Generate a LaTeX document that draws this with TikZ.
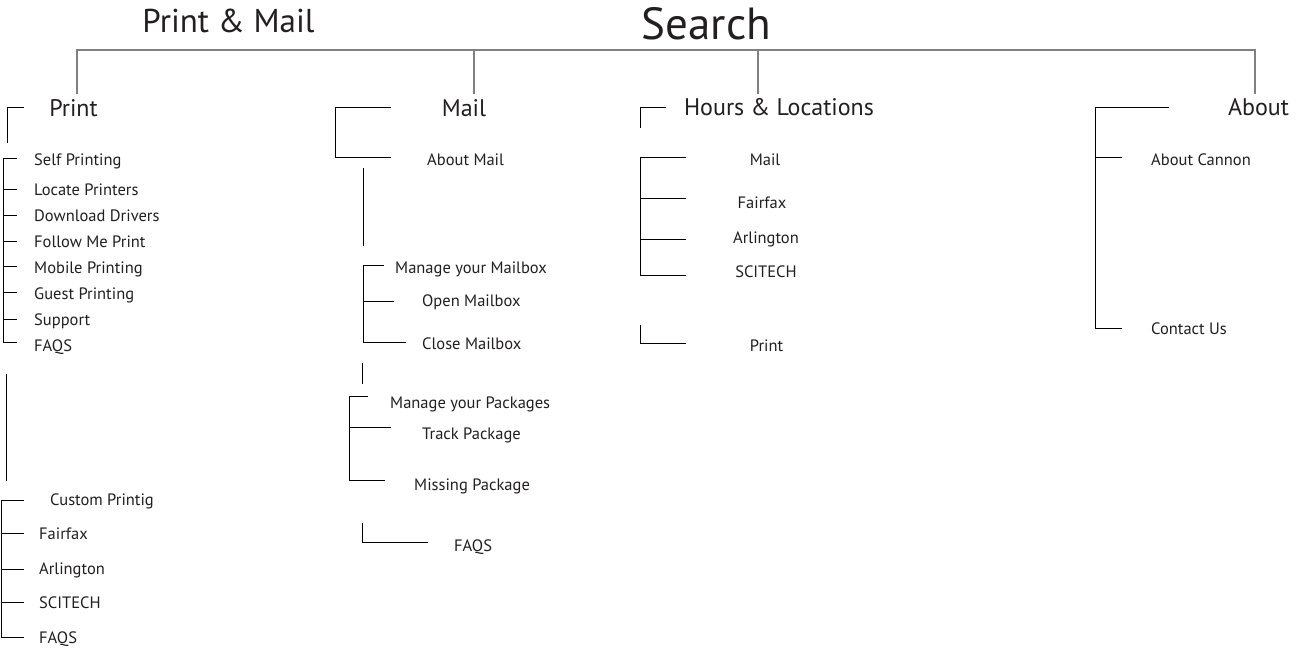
\documentclass[tikz,border=0pt]{standalone}
\usepackage{fontspec}
\setmainfont{PT Sans}
\definecolor{txt}{HTML}{231F20}
\definecolor{gline}{HTML}{808080}
\tikzset{
  itm/.style={font=\fontsize{16.5}{19}\selectfont, text=txt, inner sep=0pt, anchor=base west},
  itmc/.style={font=\fontsize{16.5}{19}\selectfont, text=txt, inner sep=0pt, anchor=base},
  hd/.style={font=\fontsize{24}{28}\selectfont, text=txt, inner sep=0pt, anchor=base},
  ttl/.style={text=txt, inner sep=0pt, anchor=base},
  br/.style={draw=black, line width=1pt},
  gr/.style={draw=gline, line width=1.3pt},
}
\begin{document}
\begin{tikzpicture}[x=1pt,y=-1pt]
\useasboundingbox[fill=white] (0,0) rectangle (1306,662);
% titles
\node[ttl, font=\fontsize{33}{38}\selectfont] (pm) at (228.5,32.5) {Print \& Mail};
\node[ttl, font=\fontsize{45}{50}\selectfont] (search) at (706.5,39) {Search};
% top tree
\draw[gr] (77,94) -- (77,50) -- (1255,50) -- (1255,94);
\draw[gr] (474,50) -- (474,94);
\draw[gr] (758,50) -- (758,94);
% headings
\node[hd] (print) at (73.5,116) {Print};
\node[hd] (mail) at (464,116) {Mail};
\node[hd] (hours) at (779,115.5) {Hours \& Locations};
\node[hd] (about) at (1258.5,115.5) {About};

% ---- Print column
\draw[br] (24,107) -- (7,107) -- (7,143);
\draw[br] (17,158) -- (3,158) -- (3,342) -- (17,342);
\foreach \y in {189,215,241,266,292,319} \draw[br] (3,\y) -- (17,\y);
\node[itm] (p1) at (34,165.5) {Self Printing};
\node[itm] (p2) at (34,195) {Locate Printers};
\node[itm] (p3) at (34,221) {Download Drivers};
\node[itm] (p4) at (34,247) {Follow Me Print};
\node[itm] (p5) at (34,273) {Mobile Printing};
\node[itm] (p6) at (34,299) {Guest Printing};
\node[itm] (p7) at (34,325) {Support};
\node[itm] (p8) at (34,351) {FAQS};
\draw[br] (6,374) -- (6,481);
\draw[br] (24,500) -- (1,500) -- (1,637) -- (24,637);
\foreach \y in {533,569,602} \draw[br] (1,\y) -- (24,\y);
\node[itm] (c1) at (50,505) {Custom Printig};
\node[itm] (c2) at (39,539) {Fairfax};
\node[itm] (c3) at (39,574) {Arlington};
\node[itm] (c4) at (39,608) {SCITECH};
\node[itm] (c5) at (39,643) {FAQS};

% ---- Mail column
\draw[br] (391,107) -- (335,107) -- (335,157) -- (391,157);
\node[itm] (m1) at (427,165) {About Mail};
\draw[br] (363,168) -- (363,246);
\draw[br] (384,265) -- (363,265) -- (363,342) -- (406,342);
\draw[br] (363,301) -- (394,301);
\node[itm] (m2) at (395,273) {Manage your Mailbox};
\node[itm] (m3) at (422,306) {Open Mailbox};
\node[itm] (m4) at (422,349) {Close Mailbox};
\draw[br] (362,363) -- (362,384);
\draw[br] (368,396) -- (349,396) -- (349,480) -- (385,480);
\draw[br] (349,427) -- (391,427);
\node[itm] (m5) at (390,408) {Manage your Packages};
\node[itm] (m6) at (422,439) {Track Package};
\node[itm] (m7) at (414,490) {Missing Package};
\draw[br] (362,523) -- (362,542) -- (428,542);
\node[itm] (m8) at (454,551) {FAQS};

% ---- Hours column
\draw[br] (666,107) -- (640,107) -- (640,128);
\draw[br] (686,157) -- (640,157) -- (640,275) -- (686,275);
\draw[br] (640,198) -- (686,198);
\draw[br] (640,239) -- (686,239);
\node[itmc] (h1) at (765,165.5) {Mail};
\node[itmc] (h2) at (762,208.5) {Fairfax};
\node[itmc] (h3) at (766,243) {Arlington};
\node[itmc] (h4) at (766,277) {SCITECH};
\draw[br] (640,325) -- (640,343) -- (686,343);
\node[itmc] (h5) at (766.5,351.5) {Print};

% ---- About column
\draw[br] (1169,107) -- (1095,107) -- (1095,328) -- (1122,328);
\draw[br] (1095,157) -- (1122,157);
\node[itm] (a1) at (1151,165.5) {About Cannon};
\node[itm] (a2) at (1151,334) {Contact Us};
\end{tikzpicture}
\end{document}
